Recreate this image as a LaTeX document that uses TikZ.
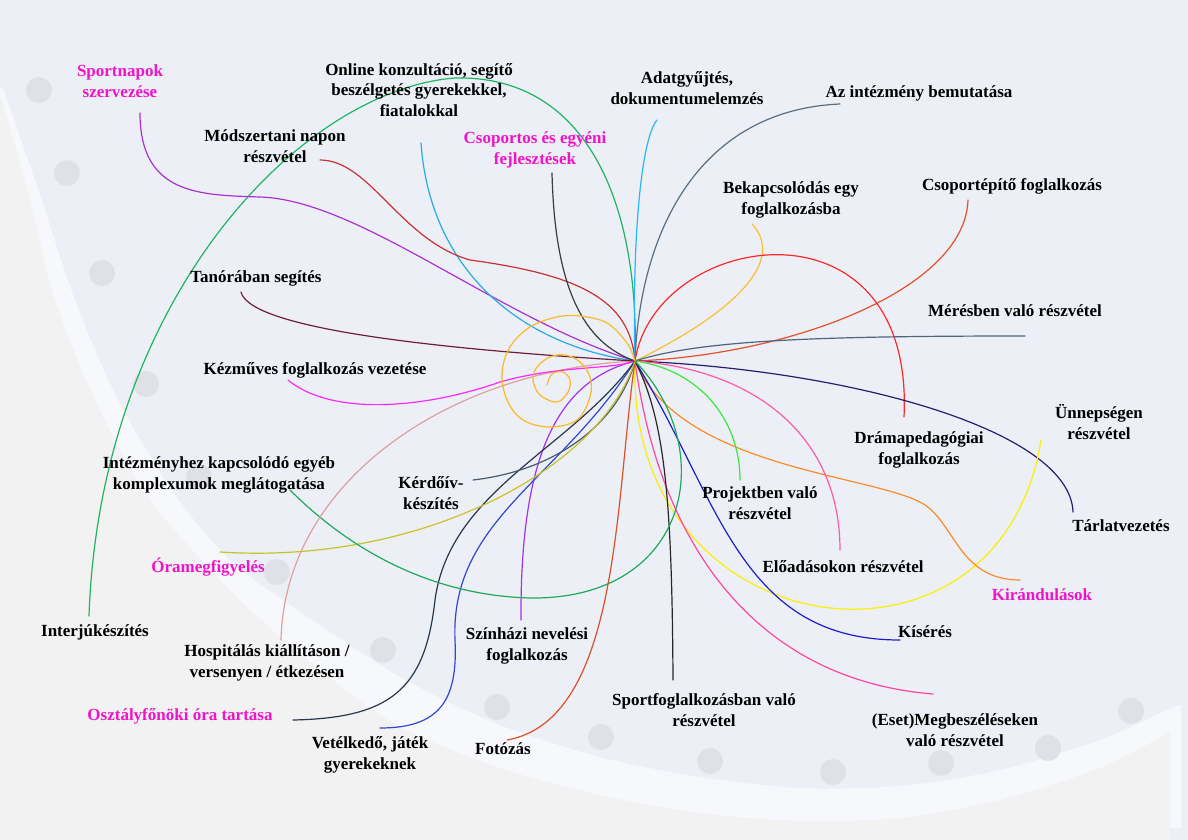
\documentclass[tikz,border=0pt]{standalone}
\usepackage{fontspec}
\setmainfont{Liberation Serif}
\usepackage{tikz}
\definecolor{bgblue}{RGB}{236,239,246}
\definecolor{bandwhite}{RGB}{247,248,252}
\definecolor{bowlgray}{RGB}{242,242,242}
\definecolor{dotgray}{RGB}{224,225,230}
\definecolor{hotpink}{RGB}{240,20,200}
\definecolor{sportc}{RGB}{170,50,210}
\definecolor{onlinec}{RGB}{41,171,226}
\definecolor{modszerc}{RGB}{200,50,50}
\definecolor{csoportc}{RGB}{60,60,60}
\definecolor{adatc}{RGB}{41,182,246}
\definecolor{intezc}{RGB}{90,110,130}
\definecolor{bekapcsc}{RGB}{251,190,50}
\definecolor{spiralc}{RGB}{251,185,40}
\definecolor{epitoc}{RGB}{230,80,40}
\definecolor{dramac}{RGB}{255,40,40}
\definecolor{meresc}{RGB}{80,100,125}
\definecolor{tarlatc}{RGB}{40,30,110}
\definecolor{unnepc}{RGB}{250,240,0}
\definecolor{kirandc}{RGB}{250,140,40}
\definecolor{eloadc}{RGB}{255,90,170}
\definecolor{projektc}{RGB}{60,230,60}
\definecolor{kiserc}{RGB}{30,30,200}
\definecolor{megbeszc}{RGB}{255,70,160}
\definecolor{sportfc}{RGB}{40,40,40}
\definecolor{fotoc}{RGB}{220,80,40}
\definecolor{szinhazc}{RGB}{160,50,240}
\definecolor{vetelkc}{RGB}{50,70,210}
\definecolor{osztalyc}{RGB}{40,55,75}
\definecolor{kerdoivc}{RGB}{70,90,110}
\definecolor{oramc}{RGB}{200,195,40}
\definecolor{intkapcsc}{RGB}{30,170,90}
\definecolor{hospitc}{RGB}{220,160,160}
\definecolor{kezmc}{RGB}{255,40,255}
\definecolor{tanorac}{RGB}{110,30,60}
\definecolor{interjuc}{RGB}{30,180,100}
\tikzstyle{lbl} = [font=\bfseries\fontsize{17}{20.5}\selectfont, align=center, inner sep=0pt, text=black]
\tikzstyle{hot} = [lbl, text=hotpink]
\tikzstyle{branch} = [line width=1.2pt, line cap=round]

\begin{document}
\begin{tikzpicture}[x=1pt,y=-1pt]
    \useasboundingbox (0,0) rectangle (1188,840);
    % background bowl
    \fill[bgblue] (0,0) rectangle (1188,840);
    \fill[bandwhite] plot[smooth] coordinates {(3,88) (40,195) (75,300) (118,400) (175,495)
        (230,560) (283,600) (400,677) (500,725) (600,757) (700,777) (800,788) (900,786)
        (1000,770) (1100,740) (1177,705)}
        -- (1181,705) -- (1181,828) -- (1170,828) -- (1170,840) -- (0,840) -- (0,88) -- cycle;
    \fill[bowlgray] (0,98) -- plot[smooth] coordinates {(2,100) (30,200) (55,300) (95,400)
        (150,500) (240,600) (320,670) (400,727) (500,768) (600,795) (700,813) (800,821)
        (900,818) (1000,800) (1100,768) (1170,732)} -- (1170,840) -- (0,840) -- cycle;
    \foreach \x/\y in {39/90,67/173,102/273,146/384,199/477,277/572,383/650,497/707,
        601/737,710/761,833/772,941/763,1048/748,1131/711}{
        \fill[dotgray] (\x,\y) circle (13pt);
    }

    % hub and branch ends
    \coordinate (hub) at (635,361);
    \foreach \nm/\x/\y in {sport/140/113, online/421/143, modszer/320/160, csoport/552/173,
        adat/657/120, intezmeny/840/104, bekapcs/752/224, epito/968/200, tanora/241/292,
        meres/1025/336, kezmuves/288/380, unnep/1041/440, drama/904/417, intkapcs/290/490,
        kerdoiv/473/480, projekt/740/480, tarlat/1073/512, eloadas/840/550, oramegf/220/552,
        kirand/1020/580, interju/89/616, kiseres/900/640, szinhaz/521/620, hospit/281/640,
        sportfogl/673/680, osztaly/293/720, megbesz/933/694, fotozas/507/740, vetelk/380/728}{
        \coordinate (\nm-e) at (\x,\y);
    }

    % branches
    \draw[branch, interjuc] (hub) .. controls (640,200) and (585,75) .. (455,78)
        .. controls (300,90) and (100,300) .. (interju-e);
    \draw[branch, sportc] (sport-e) .. controls (140,195) and (200,195) .. (260,197)
        .. controls (360,200) and (500,320) .. (hub);
    \draw[branch, onlinec] (online-e) .. controls (430,270) and (520,345) .. (hub);
    \draw[branch, modszerc] (modszer-e) .. controls (370,160) and (400,240) .. (470,260)
        .. controls (580,275) and (630,300) .. (hub);
    \draw[branch, csoportc] (csoport-e) .. controls (555,300) and (590,345) .. (hub);
    \draw[branch, adatc] (adat-e) .. controls (640,140) and (632,250) .. (hub);
    \draw[branch, intezc] (intezmeny-e) .. controls (700,110) and (640,230) .. (hub);
    \draw[branch, bekapcsc] (bekapcs-e) .. controls (790,265) and (720,320) .. (hub);
    \draw[branch, epitoc] (epito-e) .. controls (965,290) and (790,355) .. (hub);
    \draw[branch, dramac] (hub) .. controls (655,230) and (915,190) .. (drama-e);
    \draw[branch, meresc] (meres-e) .. controls (820,336) and (700,340) .. (hub);
    \draw[branch, tarlatc] (hub) .. controls (850,370) and (1070,430) .. (tarlat-e);
    \draw[branch, unnepc] (hub) .. controls (625,650) and (1000,700) .. (unnep-e);
    \draw[branch, kirandc] (hub) .. controls (680,470) and (880,475) .. (925,505)
        .. controls (955,525) and (960,580) .. (kirand-e);
    \draw[branch, eloadc] (hub) .. controls (760,370) and (840,440) .. (eloadas-e);
    \draw[branch, projektc] (hub) .. controls (700,370) and (740,420) .. (projekt-e);
    \draw[branch, kiserc] (hub) .. controls (720,500) and (740,640) .. (kiseres-e);
    \draw[branch, megbeszc] (hub) .. controls (660,550) and (760,680) .. (megbesz-e);
    \draw[branch, sportfc] (hub) .. controls (665,420) and (672,500) .. (sportfogl-e);
    \draw[branch, fotoc] (hub) .. controls (615,500) and (620,720) .. (fotozas-e);
    \draw[branch, szinhazc] (hub) .. controls (560,380) and (520,450) .. (szinhaz-e);
    \draw[branch, vetelkc] (hub) .. controls (560,480) and (450,520) .. (455,640)
        .. controls (458,700) and (440,728) .. (vetelk-e);
    \draw[branch, osztalyc] (hub) .. controls (570,450) and (450,490) .. (435,600)
        .. controls (425,690) and (390,718) .. (osztaly-e);
    \draw[branch, kerdoivc] (kerdoiv-e) .. controls (560,470) and (620,420) .. (hub);
    \draw[branch, oramc] (oramegf-e) .. controls (420,565) and (600,470) .. (hub);
    \draw[branch, intkapcsc] (hub) .. controls (720,450) and (690,600) .. (530,598)
        .. controls (420,595) and (340,540) .. (intkapcs-e);
    \draw[branch, hospitc] (hospit-e) .. controls (285,480) and (450,370) .. (hub);
    \draw[branch, kezmc] (kezmuves-e) .. controls (330,415) and (420,410) .. (500,382)
        .. controls (560,365) and (610,370) .. (hub);
    \draw[branch, tanorac] (tanora-e) .. controls (250,330) and (450,350) .. (hub);
    % spiral in the middle
    \draw[branch, spiralc] plot[smooth, tension=0.6] coordinates {(635,361) (627,343)
        (607,323) (580,316) (557,317) (530,327) (510,347) (502,373) (507,400) (523,420)
        (550,427) (577,420) (590,397) (590,377) (580,362) (565,355) (550,357) (537,367)
        (533,380) (540,395) (557,402) (568,392) (570,380) (563,372) (552,374) (547,385)};

    % labels
    \node[hot] (sport) at (120,81) {Sportnapok\\szervezése};
    \node[lbl] (online) at (419,90) {Online konzultáció, segítő\\beszélgetés gyerekekkel,\\fiatalokkal};
    \node[lbl] (modszer) at (275,146) {Módszertani napon\\részvétel};
    \node[hot] (csoport) at (535,150) {Csoportos és egyéni\\fejlesztések};
    \node[lbl] (adat) at (687,88) {Adatgyűjtés,\\dokumentumelemzés};
    \node[lbl] (intezmeny) at (919,93) {Az intézmény bemutatása};
    \node[lbl] (bekapcs) at (791,200) {Bekapcsolódás egy\\foglalkozásba};
    \node[lbl] (epito) at (1012,186) {Csoportépítő foglalkozás};
    \node[lbl] (tanora) at (256,278) {Tanórában segítés};
    \node[lbl] (meres) at (1015,311) {Mérésben való részvétel};
    \node[lbl] (kezmuves) at (315,370) {Kézműves foglalkozás vezetése};
    \node[lbl] (unnep) at (1099,422) {Ünnepségen\\részvétel};
    \node[lbl] (drama) at (919,450) {Drámapedagógiai\\foglalkozás};
    \node[lbl] (intkapcs) at (219,475) {Intézményhez kapcsolódó egyéb\\komplexumok meglátogatása};
    \node[lbl] (kerdoiv) at (431,493) {Kérdőív-\\készítés};
    \node[lbl] (projekt) at (760,503) {Projektben való\\részvétel};
    \node[lbl] (tarlat) at (1121,526) {Tárlatvezetés};
    \node[lbl] (eloadas) at (843,567) {Előadásokon részvétel};
    \node[hot] (oramegf) at (208,567) {Óramegfigyelés};
    \node[hot] (kirand) at (1042,595) {Kirándulások};
    \node[lbl] (interju) at (95,632) {Interjúkészítés};
    \node[lbl] (kiseres) at (925,632) {Kísérés};
    \node[lbl] (szinhaz) at (527,646) {Színházi nevelési\\foglalkozás};
    \node[lbl] (hospit) at (267,663) {Hospitálás kiállításon /\\versenyen / étkezésen};
    \node[lbl] (sportfogl) at (704,710) {Sportfoglalkozásban való\\részvétel};
    \node[hot] (osztaly) at (180,716) {Osztályfőnöki óra tartása};
    \node[lbl] (megbesz) at (955,730) {(Eset)Megbeszéléseken\\való részvétel};
    \node[lbl] (fotozas) at (503,749) {Fotózás};
    \node[lbl] (vetelk) at (370,755) {Vetélkedő, játék\\gyerekeknek};
\end{tikzpicture}
\end{document}
